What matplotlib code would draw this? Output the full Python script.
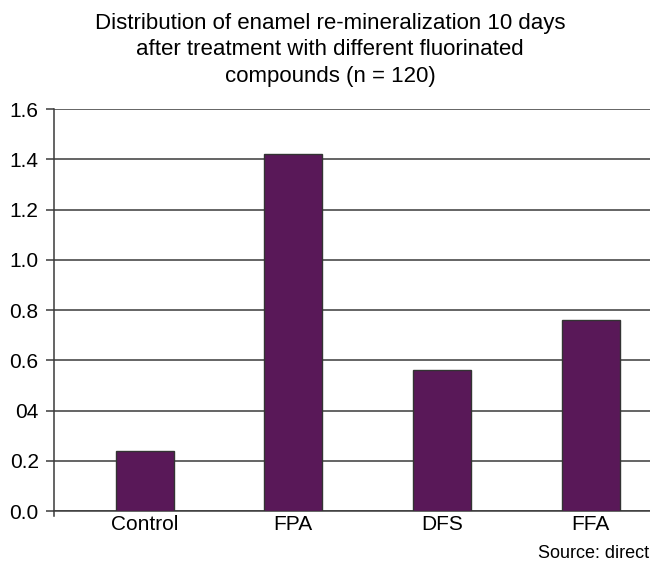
import matplotlib
matplotlib.use("Agg")
import matplotlib.pyplot as plt

categories = ["Control", "FPA", "DFS", "FFA"]
values = [0.24, 1.42, 0.56, 0.76]
yticks = [0.0, 0.2, 0.4, 0.6, 0.8, 1.0, 1.2, 1.4, 1.6]
ytick_labels = ["0.0", "0.2", "04", "0.6", "0.8", "1.0", "1.2", "1.4", "1.6"]
title = ("Distribution of enamel re-mineralization 10 days\n"
         "after treatment with different fluorinated\n"
         "compounds (n = 120)")
source = "Source: direct"

plt.rcParams['font.family'] = ['Liberation Sans', 'DejaVu Sans']

fig = plt.figure(figsize=(6.5, 5.72), dpi=100)
ax = fig.add_axes([0.083, 0.1066, 0.917, 0.7028])

ax.set_axisbelow(True)
for y in yticks:
    ax.axhline(y, color="#3a3a3a", linewidth=1.1, zorder=0)

x = list(range(len(categories)))
ax.bar(x, values, width=0.39, color="#591858", edgecolor="#333333", linewidth=1.0, zorder=3)

ax.set_xlim(-0.61, 3.40)
ax.set_ylim(0, 1.6)
ax.set_yticks(yticks)
ax.set_yticklabels(ytick_labels, fontsize=15)
ax.set_xticks(x)
ax.set_xticklabels(categories, fontsize=15)
ax.tick_params(axis="x", length=0, pad=3)
ax.tick_params(axis="y", length=6, width=1.1, color="#3a3a3a", pad=5)

for s in ["top", "right"]:
    ax.spines[s].set_visible(False)
ax.spines["left"].set_color("#3a3a3a")
ax.spines["left"].set_linewidth(1.1)
ax.spines["left"].set_bounds(-0.02, 1.6)
ax.spines["bottom"].set_color("#3a3a3a")
ax.spines["bottom"].set_linewidth(1.1)

fig.text(0.508, 0.977, title, ha="center", va="top", fontsize=16, linespacing=1.33)
fig.text(0.998, 0.017, source, ha="right", va="bottom", fontsize=13)

fig.savefig("out.png", dpi=100)
